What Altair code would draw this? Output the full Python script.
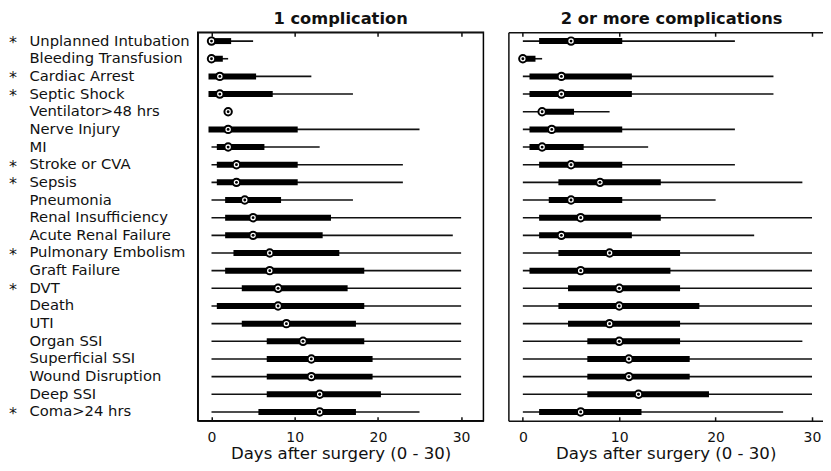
import altair as alt
import pandas as pd

complications = [
    "Unplanned Intubation", "Bleeding Transfusion", "Cardiac Arrest", "Septic Shock",
    "Ventilator>48 hrs", "Nerve Injury", "MI", "Stroke or CVA", "Sepsis", "Pneumonia",
    "Renal Insufficiency", "Acute Renal Failure", "Pulmonary Embolism", "Graft Failure",
    "DVT", "Death", "UTI", "Organ SSI", "Superficial SSI", "Wound Disruption",
    "Deep SSI", "Coma>24 hrs",
]
starred = [True, False, True, True, False, False, False, True, True, False, False,
           False, True, False, True, False, False, False, False, False, False, True]

# 1 complication
one_min = [0, 0, 0, 0, 2, 0, 0, 0, 0, 0, 0, 0, 0, 0, 0, 0, 0, 0, 0, 0, 0, 0]
one_q1 = [0, 0, 0, 0, 2, 0, 1, 1, 1, 2, 2, 2, 3, 2, 4, 1, 4, 7, 7, 7, 7, 6]
one_med = [0, 0, 1, 1, 2, 2, 2, 3, 3, 4, 5, 5, 7, 7, 8, 8, 9, 11, 12, 12, 13, 13]
one_q3 = [2, 1, 5, 7, 2, 10, 6, 10, 10, 8, 14, 13, 15, 18, 16, 18, 17, 18, 19, 19, 20, 17]
one_max = [5, 2, 12, 17, 2, 25, 13, 23, 23, 17, 30, 29, 30, 30, 30, 30, 30, 30, 30, 30, 30, 25]

# 2 or more complications
two_min = [0, 0, 0, 0, 0, 0, 0, 0, 0, 0, 0, 0, 0, 0, 0, 0, 0, 0, 0, 0, 0, 0]
two_q1 = [2, 0, 1, 1, 2, 1, 1, 2, 4, 3, 2, 2, 4, 1, 5, 4, 5, 7, 7, 7, 7, 2]
two_med = [5, 0, 4, 4, 2, 3, 2, 5, 8, 5, 6, 4, 9, 6, 10, 10, 9, 10, 11, 11, 12, 6]
two_q3 = [10, 1, 11, 11, 5, 10, 6, 10, 14, 10, 14, 11, 16, 15, 16, 18, 16, 16, 17, 17, 19, 12]
two_max = [22, 2, 26, 26, 9, 22, 13, 22, 29, 20, 30, 24, 30, 30, 30, 30, 30, 29, 30, 30, 30, 27]

panel_titles = ["1 complication", "2 or more complications"]
x_ticks = [0, 10, 20, 30]
x_title = "Days after surgery (0 - 30)"

FONT = "DejaVu Sans"
INK = "#111111"


def make_df(mn, q1, med, q3, mx):
    return pd.DataFrame({
        "cond": complications, "star": starred,
        "min": mn, "q1": q1, "med": med, "q3": q3, "max": mx,
    })


def panel(df, title, width, domain, first, title_dx):
    xs = alt.Scale(domain=domain, nice=False, zero=False)
    if first:
        yaxis = alt.Axis(title=None, domain=True, domainColor=INK, domainWidth=1.5,
                         ticks=False, tickSize=0, labelAlign="left", labelBaseline="middle",
                         labelPadding=169, labelFont=FONT, labelFontSize=14.8,
                         labelColor=INK, labelLimit=400, grid=False)
    else:
        yaxis = alt.Axis(title=None, domain=True, domainColor=INK, domainWidth=1.5,
                         ticks=False, tickSize=0, labels=False, grid=False)
    y_enc = alt.Y("cond:N", sort=complications,
                  scale=alt.Scale(type="point", padding=0.5), axis=yaxis)

    bottom_dom = alt.Axis(orient="bottom", domain=True, domainColor=INK, domainWidth=1.5,
                          ticks=False, labels=False, title=None, grid=False)
    bottom_tick = alt.Axis(orient="bottom", offset=-4, domain=False, ticks=True, tickSize=4,
                           tickWidth=1.5, tickColor=INK, values=x_ticks, labelFont=FONT,
                           labelFontSize=14, labelColor=INK, labelPadding=9.5,
                           labelFlush=False, title=x_title, titleFont=FONT,
                           titleFontSize=16.6, titleFontWeight="normal", titleColor=INK,
                           titleY=28.5, titleBaseline="top", grid=False)
    top_dom = alt.Axis(orient="top", domain=True, domainColor=INK, domainWidth=1.5,
                       ticks=False, labels=False, title=None, grid=False)
    top_tick = alt.Axis(orient="top", offset=-4, domain=False, ticks=True, tickSize=4,
                        tickWidth=1.5, tickColor=INK, values=x_ticks, labels=False,
                        title=None, grid=False)

    base = alt.Chart(df)
    whisk = base.mark_rule(strokeWidth=1.6, color=INK).encode(
        x=alt.X("min:Q", scale=xs, axis=bottom_dom), x2="max:Q")
    box = base.mark_rule(strokeWidth=6, strokeCap="square", color="black").encode(
        x=alt.X("q1:Q", scale=xs, axis=bottom_tick), x2="q3:Q")
    ring = base.mark_point(shape="circle", filled=True, fill="white", stroke="black",
                           strokeWidth=2, size=55, opacity=1).encode(
        x=alt.X("med:Q", scale=xs, axis=top_dom))
    dot = base.mark_point(shape="circle", filled=True, color="black", size=8,
                          opacity=1).encode(
        x=alt.X("med:Q", scale=xs, axis=top_tick))
    layers = [whisk, box, ring, dot]
    if first:
        ast = base.transform_filter("datum.star").mark_text(
            text="*", align="left", baseline="middle", dy=2, font=FONT, fontSize=16,
            color=INK).encode(x=alt.value(-189))
        layers.append(ast)

    view = (alt.ViewBackground(stroke="black", strokeWidth=1.5) if first
            else alt.ViewBackground(strokeOpacity=0))
    return alt.layer(*layers).encode(y=y_enc).resolve_axis(x="independent").properties(
        width=width, height=389,
        title=alt.TitleParams(title, font=FONT, fontSize=16.3, fontWeight="bold",
                              color=INK, anchor="middle", frame="group", offset=4,
                              dx=title_dx),
        view=view,
    )


left = panel(make_df(one_min, one_q1, one_med, one_q3, one_max), panel_titles[0],
             286, [-1.65, 32.68], True, 0)
right = panel(make_df(two_min, two_q1, two_med, two_q3, two_max), panel_titles[1],
              315, [-1.5, 31.14], False, 6)

chart = alt.hconcat(left, right, spacing=24).properties(
    padding={"left": 0, "top": 2, "right": 0, "bottom": 0},
    background="white",
).configure_axis(grid=False)

chart.save("out.html", embed_options={"renderer": "svg", "actions": False})
